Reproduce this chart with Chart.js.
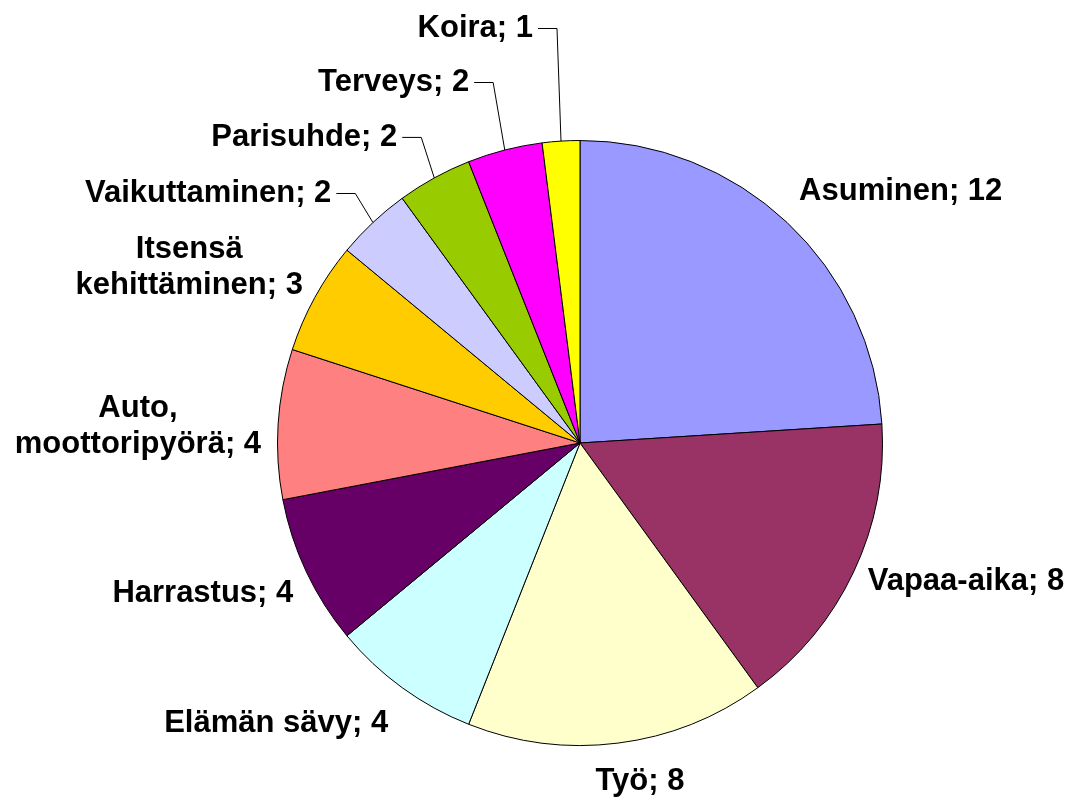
<!DOCTYPE html>
<html>
<head>
<meta charset="utf-8">
<script src="https://cdn.jsdelivr.net/npm/chart.js@4"></script>
<style>
  html, body { margin: 0; padding: 0; background: #ffffff; }
  #wrap { width: 1078px; height: 803px; position: relative; }
</style>
</head>
<body>
<div id="wrap"><canvas id="c" width="1078" height="803"></canvas></div>
<script>
// ---- data ----
const categories = [
  "Asuminen", "Vapaa-aika", "Työ", "Elämän sävy", "Harrastus",
  "Auto,\nmoottoripyörä", "Itsensä\nkehittäminen", "Vaikuttaminen",
  "Parisuhde", "Terveys", "Koira"
];
const values = [12, 8, 8, 4, 4, 4, 3, 2, 2, 2, 1];
const sliceColors = [
  "#9999FF", "#993366", "#FFFFCC", "#CCFFFF", "#660066",
  "#FF8080", "#FFCC00", "#CCCCFF", "#99CC00", "#FF00FF", "#FFFF00"
];

// ---- label layout (offsets from each slice's outer edge point) ----
const labelLayout = [
  { align: "left",   dx: 12,  dy: -31 },
  { align: "left",   dx: 14,  dy: 10 },
  { align: "center", dx: 22,  dy: 38 },
  { align: "right",  dx: -14, dy: 36 },
  { align: "right",  dx: -13, dy: 22 },
  { align: "right",  dx: -17, dy: 2 },
  { align: "right",  dx: -12, dy: -30 },
  { align: "right",  leader: true, bx: -17.6, by: -29 },
  { align: "right",  leader: true, bx: -13,   by: -40.5 },
  { align: "right",  leader: true, bx: -11.6, by: -67.5 },
  { align: "right",  leader: true, bx: -4,    by: -112.6 }
];

const FONT = "bold 31px 'Liberation Sans', Arial, sans-serif";
const LINE_H = 36;

const labelPlugin = {
  id: "sliceLabels",
  afterDatasetsDraw(chart) {
    const ctx = chart.ctx;
    const meta = chart.getDatasetMeta(0);
    ctx.save();
    ctx.font = FONT;
    ctx.fillStyle = "#000";
    ctx.strokeStyle = "#000";
    ctx.lineWidth = 1;
    ctx.textBaseline = "middle";
    meta.data.forEach((arc, i) => {
      const p = arc.getProps(["x", "y", "startAngle", "endAngle", "outerRadius"], true);
      const mid = (p.startAngle + p.endAngle) / 2;
      const ex = p.x + p.outerRadius * Math.cos(mid);
      const ey = p.y + p.outerRadius * Math.sin(mid);
      const L = labelLayout[i];
      const text = categories[i] + "; " + values[i];
      const lines = text.split("\n");
      if (L.leader) {
        const bx = ex + L.bx, by = ey + L.by;
        const hx = bx - 19;
        ctx.beginPath();
        ctx.moveTo(ex, ey);
        ctx.lineTo(bx, by);
        ctx.lineTo(hx, by);
        ctx.stroke();
        ctx.textAlign = "right";
        ctx.fillText(lines[0], hx - 5, by);
        return;
      }
      const ax = ex + L.dx, ay = ey + L.dy;
      const widths = lines.map(s => ctx.measureText(s).width);
      const maxW = Math.max(...widths);
      let cx;
      if (L.align === "left") cx = ax + maxW / 2;
      else if (L.align === "right") cx = ax - maxW / 2;
      else cx = ax;
      const top = ay - (lines.length - 1) * LINE_H / 2;
      ctx.textAlign = "center";
      lines.forEach((s, k) => {
        ctx.fillText(s, cx, top + k * LINE_H);
      });
    });
    ctx.restore();
  }
};

new Chart(document.getElementById("c"), {
  type: "pie",
  data: {
    labels: categories,
    datasets: [{
      data: values,
      backgroundColor: sliceColors,
      borderColor: "#000000",
      borderWidth: 1
    }]
  },
  options: {
    responsive: false,
    animation: false,
    layout: { padding: { left: 277, right: 195, top: 140, bottom: 57 } },
    plugins: {
      legend: { display: false },
      tooltip: { enabled: false },
      title: { display: false }
    }
  },
  plugins: [labelPlugin]
});
</script>
</body>
</html>
